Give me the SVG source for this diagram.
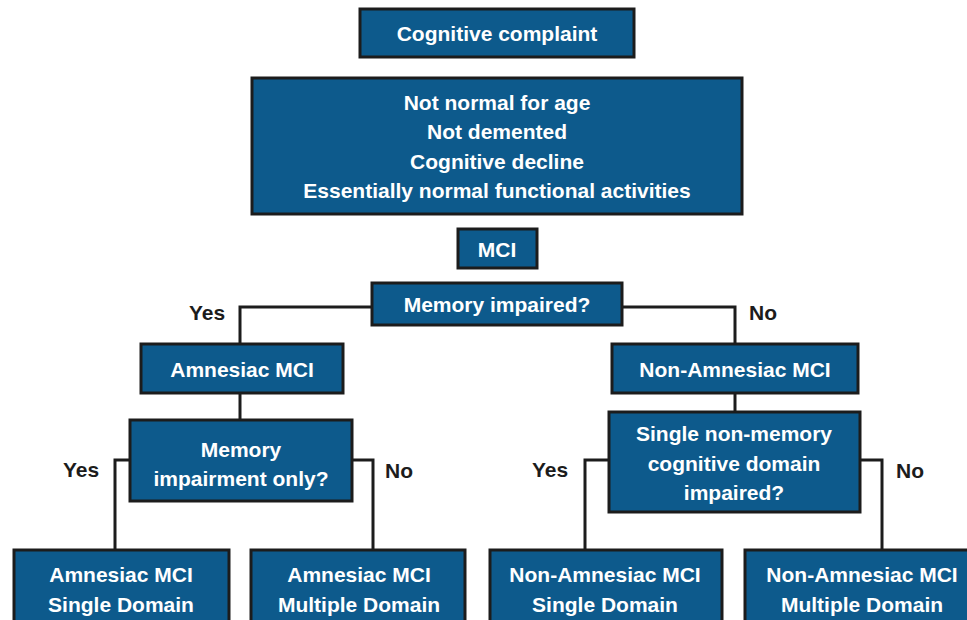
<svg xmlns="http://www.w3.org/2000/svg" width="967" height="620" viewBox="0 0 967 620">
<style>
.box{fill:#0d5a8c;stroke:#1c1c1c;stroke-width:3}
.t{font-family:"Liberation Sans",Arial,sans-serif;font-weight:bold;font-size:21px;fill:#ffffff;text-anchor:middle}
.l{font-family:"Liberation Sans",Arial,sans-serif;font-weight:bold;font-size:21px;fill:#1c1c1c;text-anchor:middle}
.c{fill:none;stroke:#1c1c1c;stroke-width:3}
</style>
<rect width="967" height="620" fill="#ffffff"/>
<g id="connectors">
<polyline class="c" points="372,307 240,307 240,344"/>
<polyline class="c" points="622,307 735,307 735,344"/>
<line class="c" x1="240" y1="393" x2="240" y2="420"/>
<line class="c" x1="735" y1="393" x2="735" y2="412"/>
<polyline class="c" points="130,460 115,460 115,550"/>
<polyline class="c" points="352,460 373,460 373,550"/>
<polyline class="c" points="609,460 585,460 585,550"/>
<polyline class="c" points="860,460 882,460 882,550"/>
<text class="l" x="207" y="320">Yes</text>
<text class="l" x="763" y="320">No</text>
<text class="l" x="81" y="477">Yes</text>
<text class="l" x="399" y="478">No</text>
<text class="l" x="550" y="477">Yes</text>
<text class="l" x="910" y="478">No</text>
</g>
<g id="complaint">
<rect class="box" x="360" y="9" width="274" height="48"/>
<text class="t" x="497" y="41">Cognitive complaint</text>
</g>
<g id="criteria">
<rect class="box" x="252" y="78" width="490" height="136"/>
<text class="t" x="497" y="110">Not normal for age</text>
<text class="t" x="497" y="139">Not demented</text>
<text class="t" x="497" y="169">Cognitive decline</text>
<text class="t" x="497" y="198">Essentially normal functional activities</text>
</g>
<g id="mci">
<rect class="box" x="458" y="229" width="79" height="39"/>
<text class="t" x="497" y="257">MCI</text>
</g>
<g id="memory-impaired">
<rect class="box" x="372" y="283" width="250" height="42"/>
<text class="t" x="497" y="312">Memory impaired?</text>
</g>
<g id="amnesiac">
<rect class="box" x="141" y="344" width="202" height="49"/>
<text class="t" x="242" y="377">Amnesiac MCI</text>
</g>
<g id="non-amnesiac">
<rect class="box" x="612" y="344" width="246" height="49"/>
<text class="t" x="735" y="377">Non-Amnesiac MCI</text>
</g>
<g id="memory-only">
<rect class="box" x="130" y="420" width="222" height="81"/>
<text class="t" x="241" y="457">Memory</text>
<text class="t" x="241" y="486">impairment only?</text>
</g>
<g id="single-nonmemory">
<rect class="box" x="609" y="412" width="251" height="100"/>
<text class="t" x="734" y="441">Single non-memory</text>
<text class="t" x="734" y="471">cognitive domain</text>
<text class="t" x="734" y="500">impaired?</text>
</g>
<g id="amci-single">
<rect class="box" x="14" y="550" width="215" height="80"/>
<text class="t" x="121" y="582">Amnesiac MCI</text>
<text class="t" x="121" y="612">Single Domain</text>
</g>
<g id="amci-multiple">
<rect class="box" x="251" y="550" width="214" height="80"/>
<text class="t" x="359" y="582">Amnesiac MCI</text>
<text class="t" x="359" y="612">Multiple Domain</text>
</g>
<g id="namci-single">
<rect class="box" x="490" y="550" width="232" height="80"/>
<text class="t" x="605" y="582">Non-Amnesiac MCI</text>
<text class="t" x="605" y="612">Single Domain</text>
</g>
<g id="namci-multiple">
<rect class="box" x="745" y="550" width="230" height="80"/>
<text class="t" x="862" y="582">Non-Amnesiac MCI</text>
<text class="t" x="862" y="612">Multiple Domain</text>
</g>
</svg>
